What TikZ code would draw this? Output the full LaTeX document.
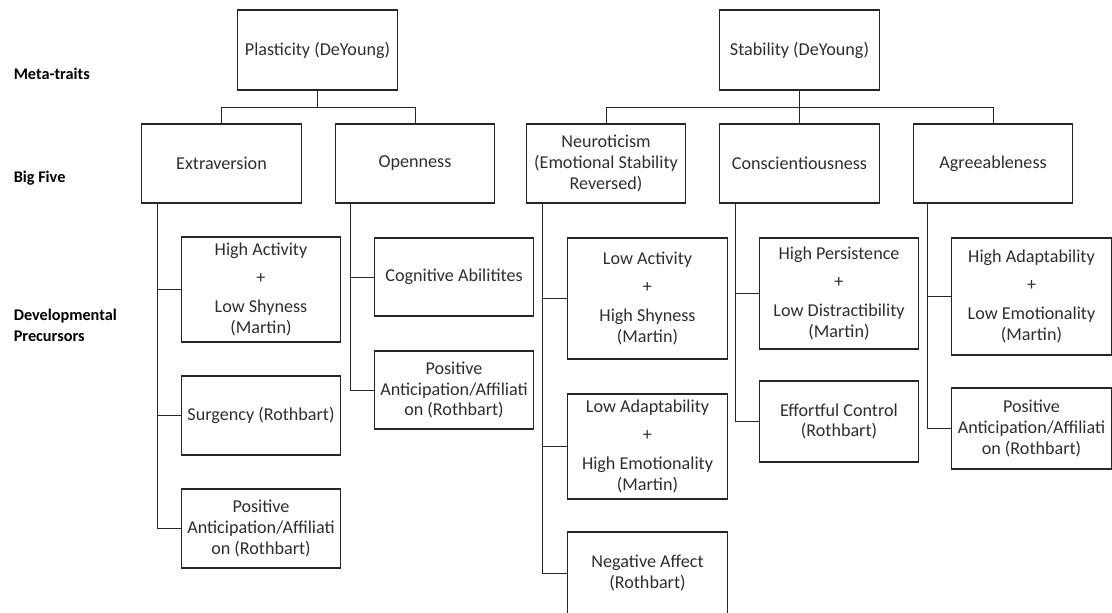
\documentclass[tikz,border=0pt]{standalone}
\usepackage{fontspec}
\setmainfont{Carlito}
\usepackage{tikz}
\usetikzlibrary{positioning}
\definecolor{lineink}{HTML}{262626}
\definecolor{textink}{HTML}{2E2E2E}

\begin{document}
\begin{tikzpicture}[
    x=0.75pt, y=-0.75pt,
    trait/.style={
        rectangle,
        draw=lineink,
        line width=0.9pt,
        text=textink,
        align=center,
        inner sep=1pt,
        minimum width=119.5pt,
        font=\fontsize{13.6}{15.6}\selectfont
    },
    boxh/.style={minimum height=#1*0.75pt},
    level/.style={
        anchor=west,
        align=left,
        inner sep=0pt,
        text=black,
        font=\bfseries\fontsize{12.2}{15.6}\selectfont
    },
    link/.style={draw=lineink, line width=0.75pt}
]
    \useasboundingbox (0,0) rectangle (1112,612);

    \node[level] (meta) at (13.5,74) {Meta-traits};
    \node[level] (bigfive) at (13.5,178.5) {Big Five};
    \node[level] (precursors) at (13.5,325.5) {Developmental\\Precursors};

    \node[trait, boxh=80] (plast) at (317.5,50) {Plasticity (DeYoung)};
    \node[trait, boxh=80] (stab) at (799.5,50) {Stability (DeYoung)};

    \node[trait, boxh=79] (ext) at (221.5,163.5) {Extraversion};
    \node[trait, boxh=79] (open) at (415,163.5) {Openness};
    \node[trait, boxh=79] (neuro) at (606,163.5)
        {Neuroticism\\(Emotional Stability\\Reversed)};
    \node[trait, boxh=79] (consc) at (799.5,163.5) {Conscientiousness};
    \node[trait, boxh=79] (agree) at (993,163.5) {Agreeableness};

    \node[trait, boxh=105] (highact) at (261,289.5)
        {High Activity\\[5pt]+\\[6.5pt]Low Shyness\\(Martin)};
    \node[trait, boxh=79] (surg) at (261,415.5) {Surgency (Rothbart)};
    \node[trait, boxh=79] (posext) at (261,528.5)
        {Positive\\Anticipation/Affiliati\\on (Rothbart)};

    \node[trait, boxh=78] (cog) at (454,277) {Cognitive Abilitites};
    \node[trait, boxh=78] (posopen) at (454,390)
        {Positive\\Anticipation/Affiliati\\on (Rothbart)};

    \node[trait, boxh=121] (lowact) at (647.5,298.5)
        {Low Activity\\[5pt]+\\[6.5pt]High Shyness\\(Martin)};
    \node[trait, boxh=105] (lowadapt) at (647.5,446.5)
        {Low Adaptability\\[5pt]+\\[6.5pt]High Emotionality\\(Martin)};
    \node[trait, boxh=82] (negaff) at (647.5,573)
        {Negative Affect\\(Rothbart)};

    \node[trait, boxh=111] (persist) at (839,293.5)
        {High Persistence\\[5pt]+\\[6.5pt]Low Distractibility\\(Martin)};
    \node[trait, boxh=81] (effort) at (839,421.5)
        {Effortful Control\\(Rothbart)};

    \node[trait, boxh=117] (highadapt) at (1031.5,296.5)
        {High Adaptability\\[5pt]+\\[6.5pt]Low Emotionality\\(Martin)};
    \node[trait, boxh=81] (posagree) at (1031.5,428.5)
        {Positive\\Anticipation/Affiliati\\on (Rothbart)};

    \draw[link] (plast.south) -- ++(0,17) coordinate (pjoin);
    \draw[link] (ext.north) |- (pjoin) -| (open.north);
    \draw[link] (stab.south) -- ++(0,17) coordinate (sjoin);
    \draw[link] (neuro.north) |- (sjoin) -| (agree.north);
    \draw[link] (sjoin) -- (consc.north);

    \draw[link] (ext.south west) ++(16,0) coordinate (extroot) |- (highact.west);
    \draw[link] (extroot) |- (surg.west);
    \draw[link] (extroot) |- (posext.west);

    \draw[link] (open.south west) ++(16,0) coordinate (openroot) |- (cog.west);
    \draw[link] (openroot) |- (posopen.west);

    \draw[link] (neuro.south west) ++(17,0) coordinate (neuroroot) |- (lowact.west);
    \draw[link] (neuroroot) |- (lowadapt.west);
    \draw[link] (neuroroot) |- (negaff.west);

    \draw[link] (consc.south west) ++(16,0) coordinate (conscroot) |- (persist.west);
    \draw[link] (conscroot) |- (effort.west);

    \draw[link] (agree.south west) ++(15,0) coordinate (agreeroot) |- (highadapt.west);
    \draw[link] (agreeroot) |- (posagree.west);
\end{tikzpicture}
\end{document}
